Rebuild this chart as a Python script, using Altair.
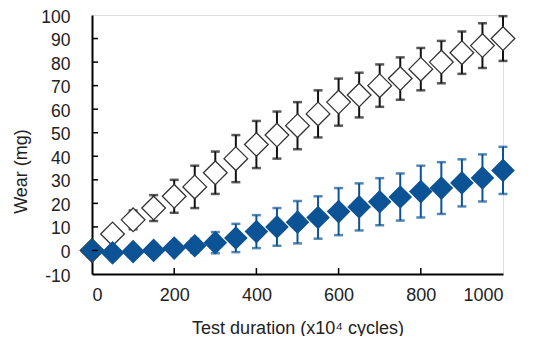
import altair as alt
import pandas as pd

duration = [0, 50, 100, 150, 200, 250, 300, 350, 400, 450, 500,
            550, 600, 650, 700, 750, 800, 850, 900, 950, 1000]
open_mean = [0, 7, 13, 18, 23, 27, 33, 39, 45, 49, 53,
             58, 63, 66, 70, 73, 77, 80, 84, 87, 90]
open_err = [0, 2, 4, 5.5, 7, 9, 9, 10, 10, 10, 10,
            10, 10, 9.5, 9, 9, 9, 9, 9, 9.5, 9.5]
filled_mean = [0, -1, -0.5, 0, 1, 2, 3.3, 5.3, 8, 10, 12,
               14, 16.5, 18.5, 20.7, 22.7, 25, 26.5, 28.7, 30.8, 34]
filled_err = [0, 0.5, 0.5, 1, 1.5, 3, 4.5, 6, 7, 8, 9,
              9, 10, 10, 10, 10, 11, 11, 10, 10, 10]
x_ticks = [200, 400, 600, 800]
y_ticks = [0, 10, 20, 30, 40, 50, 60, 70, 80, 90]
x_labels = [0, 200, 400, 600, 800, 1000]
y_labels = [-10, 0, 10, 20, 30, 40, 50, 60, 70, 80, 90, 100]

W, H = 411, 259
BLUE = "#0b5394"
FONT = "Liberation Sans"

def frame(mean, err):
    return pd.DataFrame({
        "x": duration, "y": mean,
        "lo": [m - e for m, e in zip(mean, err)],
        "hi": [m + e for m, e in zip(mean, err)],
    })

d_open = frame(open_mean, open_err)
d_fill = frame(filled_mean, filled_err)

xscale = alt.Scale(domain=[0, 1000], nice=False)
yscale = alt.Scale(domain=[-10, 100], nice=False)

xaxis = alt.Axis(values=x_labels, ticks=False, grid=False,
                 labelFontSize=18, labelPadding=12, labelColor="#222",
                 labelOverlap=False, labelExpr="'' + datum.value",
                 domainColor="black", domainWidth=2,
                 title="Test duration (x10⁴ cycles)", titleFontSize=18,
                 titleFontWeight="normal", titleColor="#222", titlePadding=15)
yaxis = alt.Axis(values=y_labels, ticks=False, grid=False,
                 labelFontSize=17.5, labelPadding=22, labelColor="#222",
                 labelOffset=2,
                 labelOverlap=False, labelExpr="'' + datum.value",
                 domainColor="black", domainWidth=2,
                 title="Wear (mg)", titleFontSize=18, titleFontWeight="normal",
                 titleColor="#222", titleAngle=-90, titleX=-62, titleY=156,
                 titleAlign="center", titleBaseline="bottom")

def X(f):
    return alt.X(f, scale=xscale, axis=xaxis)

def Y(f):
    return alt.Y(f, scale=yscale, axis=yaxis)

def errbars(df, color):
    base = alt.Chart(df)
    line = base.mark_rule(color=color, strokeWidth=2).encode(
        x=X("x:Q"), y=Y("lo:Q"), y2="hi:Q")
    cap_hi = base.mark_tick(color=color, thickness=2.5, size=9, orient="horizontal").encode(
        x=X("x:Q"), y=Y("hi:Q"))
    cap_lo = base.mark_tick(color=color, thickness=2.5, size=9, orient="horizontal").encode(
        x=X("x:Q"), y=Y("lo:Q"))
    return line + cap_hi + cap_lo

open_pts = alt.Chart(d_open).mark_point(shape="diamond", size=560, filled=True,
                                         fill="white", stroke="#333", strokeWidth=1.3,
                                         opacity=1).encode(x=X("x:Q"), y=Y("y:Q"))
fill_pts = alt.Chart(d_fill).mark_point(shape="diamond", size=560, filled=True,
                                         color=BLUE, opacity=1).encode(x=X("x:Q"), y=Y("y:Q"))

yt = alt.Chart(pd.DataFrame({"t": y_ticks})).mark_rule(color="black", strokeWidth=1.5).encode(
    y=Y("t:Q"), x=alt.value(0), x2=alt.value(6))
xt = alt.Chart(pd.DataFrame({"t": x_ticks})).mark_rule(color="black", strokeWidth=1.5).encode(
    x=X("t:Q"), y=alt.value(H), y2=alt.value(H - 6))

chart = alt.layer(
    errbars(d_open, "#111"), open_pts,
    errbars(d_fill, BLUE), fill_pts,
    yt, xt,
).properties(
    width=W, height=H,
    autosize=alt.AutoSizeParams(type="none"),
    padding={"left": 84, "top": 7, "right": 14, "bottom": 62},
).configure_view(stroke="black", strokeWidth=2).configure(
    font=FONT, background="white"
)

chart.save("out.html", embed_options={"renderer": "svg", "actions": False})
